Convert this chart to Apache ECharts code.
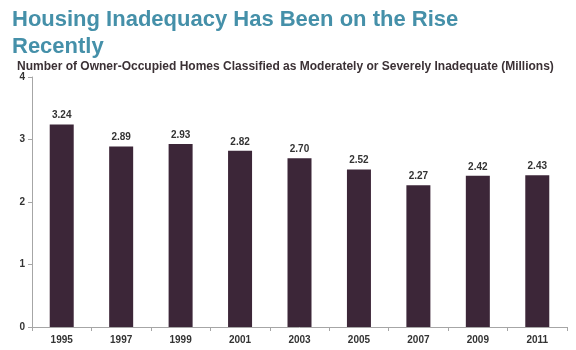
<!DOCTYPE html>
<html>
<head>
<meta charset="utf-8">
<script src="https://cdn.jsdelivr.net/npm/echarts@6/dist/echarts.min.js"></script>
<style>
  html, body { margin: 0; padding: 0; background: #fff; }
  #chart { width: 576px; height: 350px; }
</style>
</head>
<body>
<div id="chart"></div>
<script>
var years = ['1995', '1997', '1999', '2001', '2003', '2005', '2007', '2009', '2011'];
var homes = [3.24, 2.89, 2.93, 2.82, 2.70, 2.52, 2.27, 2.42, 2.43];

var myChart = echarts.init(document.getElementById('chart'));

option = {
    title: [{
        text: 'Housing Inadequacy Has Been on the Rise\nRecently',
        left: 7,
        top: 1,
        textStyle: {
            fontFamily: 'Liberation Sans',
            fontSize: 22,
            fontWeight: 'bold',
            color: '#4590a9',
            lineHeight: 27
        }
    }, {
        text: 'Number of Owner-Occupied Homes Classified as Moderately or Severely Inadequate (Millions)',
        left: 12,
        top: 56,
        textStyle: {
            fontFamily: 'Liberation Sans',
            fontSize: 12,
            fontWeight: 'bold',
            color: '#3b3135'
        }
    }],
    grid: {
        left: 32,
        right: 9,
        top: 77,
        bottom: 23
    },
    xAxis: {
        type: 'category',
        data: years,
        axisLine: { lineStyle: { color: '#a6a6a6' } },
        axisTick: { show: true, length: 4, lineStyle: { color: '#a6a6a6' } },
        axisLabel: {
            fontFamily: 'Liberation Sans',
            fontSize: 10,
            fontWeight: 'bold',
            color: '#333',
            margin: 8
        }
    },
    yAxis: {
        type: 'value',
        min: 0,
        max: 4,
        interval: 1,
        splitLine: { show: false },
        axisLine: { show: true, lineStyle: { color: '#a6a6a6' } },
        axisTick: { show: true, length: 4, lineStyle: { color: '#a6a6a6' } },
        axisLabel: {
            fontFamily: 'Liberation Sans',
            fontSize: 10,
            fontWeight: 'bold',
            color: '#333',
            margin: 7
        }
    },
    series: [{
        type: 'bar',
        data: homes,
        barWidth: 24,
        itemStyle: { color: '#3c2638' },
        label: {
            show: true,
            position: 'top',
            distance: 4,
            fontFamily: 'Liberation Sans',
            fontSize: 10,
            fontWeight: 'bold',
            color: '#333',
            formatter: function (p) { return p.value.toFixed(2); }
        }
    }]
};
myChart.setOption(option);
</script>
</body>
</html>
